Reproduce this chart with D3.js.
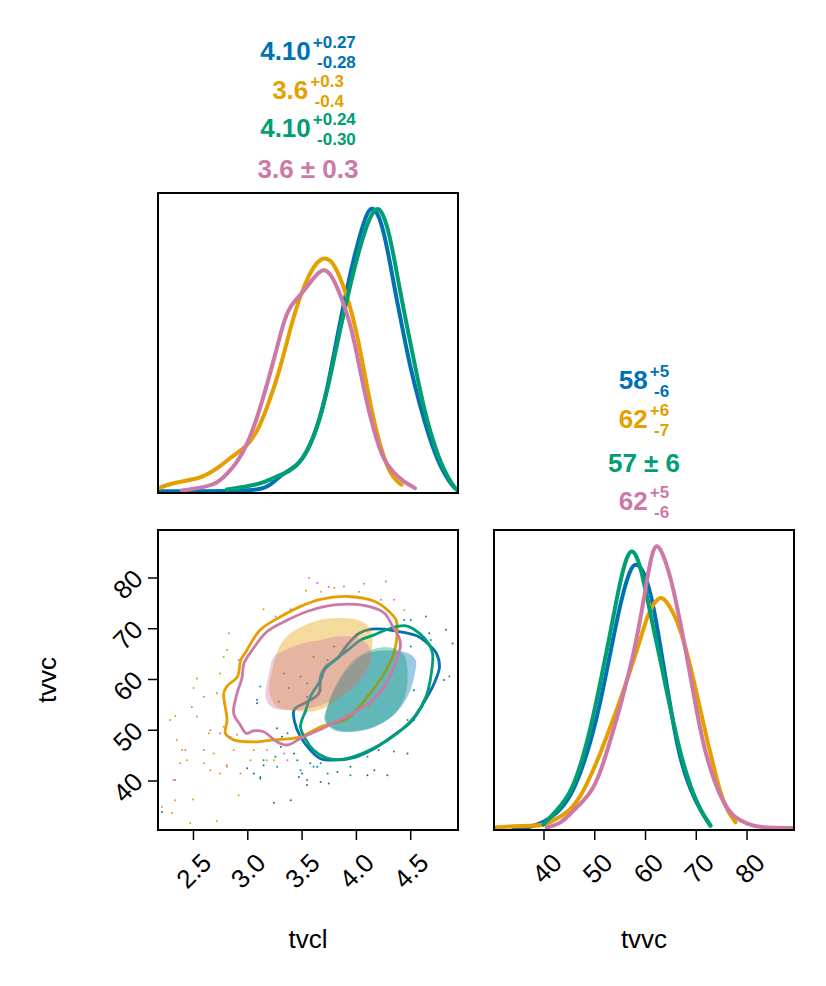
<!DOCTYPE html>
<html>
<head>
<meta charset="utf-8">
<script src="https://cdn.jsdelivr.net/npm/d3@7"></script>
<style>
  body { margin: 0; background: #fff; }
  text { font-family: "Liberation Sans", Arial, Helvetica, sans-serif; }
</style>
</head>
<body>
<div id="container"></div>
<script>
// Corner plot of two parameters (tvcl, tvvc) for four chains / models.
const seriesColors = ["#0072B2", "#E69F00", "#009E73", "#CC79A7"];

const tvclTicks = [2.5, 3.0, 3.5, 4.0, 4.5];
const tvvcTicks = [40, 50, 60, 70, 80];

// summary labels: median, upper, lower
const tvclSummary = [
  { med: "4.10", plus: "+0.27", minus: "-0.28" },
  { med: "3.6", plus: "+0.3", minus: "-0.4" },
  { med: "4.10", plus: "+0.24", minus: "-0.30" },
  { med: "3.6 ± 0.3" }
];
const tvvcSummary = [
  { med: "58", plus: "+5", minus: "-6" },
  { med: "62", plus: "+6", minus: "-7" },
  { med: "57 ± 6" },
  { med: "62", plus: "+5", minus: "-6" }
];

// marginal density of tvcl, [value, relative density]
const tvclDensity = [
  [[2.196,0.006],[2.6,0.006],[2.9,0.007],[3.117,0.012],[3.209,0.025],[3.332,0.07],[3.455,0.093],[3.547,0.14],[3.639,0.221],[3.731,0.35],[3.823,0.536],[3.915,0.711],[4.007,0.862],[4.099,0.979],[4.145,0.997],[4.191,0.985],[4.253,0.921],[4.314,0.804],[4.375,0.676],[4.437,0.559],[4.498,0.443],[4.59,0.303],[4.682,0.186],[4.774,0.093],[4.866,0.035],[4.912,0.017]],
  [[2.181,0.017],[2.319,0.035],[2.411,0.041],[2.564,0.052],[2.656,0.07],[2.749,0.093],[2.841,0.122],[2.933,0.146],[3.025,0.175],[3.117,0.233],[3.209,0.326],[3.301,0.431],[3.393,0.571],[3.485,0.688],[3.577,0.769],[3.639,0.804],[3.70,0.822],[3.761,0.816],[3.823,0.781],[3.884,0.723],[3.946,0.653],[4.007,0.559],[4.068,0.443],[4.13,0.315],[4.191,0.21],[4.253,0.128],[4.314,0.07],[4.375,0.041],[4.421,0.029]],
  [[2.81,0.012],[3.117,0.029],[3.27,0.058],[3.393,0.076],[3.485,0.105],[3.577,0.163],[3.669,0.256],[3.761,0.396],[3.854,0.571],[3.946,0.723],[4.038,0.862],[4.13,0.967],[4.191,0.997],[4.237,0.985],[4.299,0.921],[4.36,0.804],[4.421,0.676],[4.483,0.559],[4.544,0.443],[4.621,0.303],[4.713,0.175],[4.805,0.082],[4.897,0.023],[4.943,0.006]],
  [[2.396,0.009],[2.503,0.014],[2.626,0.023],[2.718,0.033],[2.81,0.064],[2.902,0.105],[2.994,0.163],[3.086,0.256],[3.178,0.373],[3.27,0.501],[3.332,0.594],[3.393,0.653],[3.485,0.688],[3.577,0.734],[3.639,0.763],[3.70,0.783],[3.761,0.769],[3.823,0.723],[3.884,0.664],[3.946,0.594],[4.007,0.49],[4.068,0.373],[4.13,0.268],[4.191,0.186],[4.253,0.117],[4.345,0.07],[4.437,0.041],[4.544,0.017]]
];

// marginal density of tvvc
const tvvcDensity = [
  [[34.08,0.004],[37.37,0.009],[40,0.027],[42.63,0.056],[45.26,0.114],[47.24,0.196],[49.21,0.301],[51.18,0.442],[53.16,0.617],[55.13,0.792],[56.78,0.897],[57.9,0.932],[59.08,0.921],[60.39,0.874],[61.71,0.78],[63.03,0.64],[64.34,0.5],[65.66,0.36],[66.97,0.243],[68.95,0.138],[70.92,0.068],[72.89,0.015]],
  [[30.26,0.009],[34.08,0.013],[37.37,0.015],[40,0.015],[42.63,0.039],[45.26,0.068],[47.24,0.114],[49.21,0.185],[51.18,0.266],[53.16,0.36],[55.13,0.453],[57.1,0.558],[59.08,0.664],[60.39,0.745],[61.71,0.792],[63.03,0.815],[64.01,0.804],[65.66,0.757],[66.97,0.699],[68.29,0.617],[69.6,0.523],[70.92,0.418],[72.24,0.313],[73.55,0.22],[74.87,0.126],[76.18,0.068],[77.83,0.027]],
  [[40,0.019],[42.63,0.068],[45.26,0.126],[47.24,0.22],[49.21,0.348],[51.18,0.512],[53.16,0.687],[55.13,0.874],[56.45,0.956],[57.24,0.977],[58.09,0.967],[59.08,0.921],[60.39,0.815],[61.71,0.699],[63.03,0.593],[64.34,0.477],[65.66,0.371],[66.97,0.266],[68.95,0.15],[70.92,0.068],[72.89,0.015]],
  [[40.66,0.009],[43.29,0.021],[45.26,0.056],[47.24,0.091],[49.21,0.126],[51.18,0.196],[53.16,0.313],[55.13,0.43],[56.45,0.523],[57.76,0.617],[59.08,0.734],[60.39,0.874],[61.38,0.967],[62.24,1.0],[63.36,0.973],[65.0,0.886],[66.32,0.78],[67.63,0.664],[68.95,0.535],[70.26,0.407],[71.58,0.29],[73.55,0.173],[75.53,0.091],[77.5,0.044],[80.13,0.021],[82.76,0.007],[89.34,0.007]]
];

// outer credible contour, [tvcl, tvvc]
const outerContours = [
  [[3.43,53.9],[3.435,51.6],[3.49,48.6],[3.58,46.0],[3.675,44.3],[3.8,44.0],[3.98,44.5],[4.17,46.3],[4.35,48.95],[4.51,51.6],[4.63,55.5],[4.72,59.1],[4.77,62.4],[4.74,65.1],[4.675,66.7],[4.57,68.4],[4.41,69.3],[4.26,69.8],[4.14,69.8],[4.03,69.0],[3.92,66.7],[3.83,64.1],[3.72,62.4],[3.675,60.5],[3.66,57.2],[3.55,55.5],[3.46,54.5]],
  [[2.783,57.17],[2.814,51.9],[2.798,49.3],[2.875,48.0],[3.06,47.6],[3.245,48.0],[3.49,48.6],[3.675,50.6],[3.92,52.2],[4.106,56.5],[4.26,61.1],[4.35,65.1],[4.38,69.0],[4.37,71.6],[4.29,73.6],[4.17,75.3],[3.92,76.25],[3.675,75.7],[3.49,74.3],[3.31,72.3],[3.12,69.7],[2.98,65.1],[2.94,63.75],[2.91,60.5],[2.81,58.5]],
  [[3.49,50.6],[3.54,48.0],[3.61,46.0],[3.72,44.5],[3.83,44.1],[3.98,44.7],[4.2,46.8],[4.38,49.3],[4.54,52.6],[4.645,56.5],[4.69,60.5],[4.705,65.1],[4.645,67.7],[4.54,69.7],[4.45,70.5],[4.32,70.0],[4.17,68.7],[4.045,67.7],[3.95,66.1],[3.83,64.1],[3.71,61.8],[3.675,59.8],[3.58,56.5],[3.54,53.9]],
  [[2.906,57.2],[2.875,53.2],[2.937,50.9],[2.99,49.3],[3.06,49.8],[3.15,49.6],[3.275,47.6],[3.37,47.0],[3.49,48.3],[3.675,50.1],[3.92,52.7],[4.137,55.5],[4.26,58.5],[4.35,62.4],[4.41,66.4],[4.4,68.0],[4.34,70.3],[4.26,73.0],[4.075,74.5],[3.8,74.6],[3.55,73.3],[3.37,71.6],[3.18,69.3],[3.045,65.7],[2.97,63.1],[2.95,60.1]]
];

// inner (filled) credible region
const innerContours = [
  [[3.74,54.5],[3.71,51.9],[3.8,49.9],[3.98,49.6],[4.17,50.5],[4.35,52.9],[4.475,56.5],[4.54,60.8],[4.55,63.75],[4.475,65.1],[4.29,65.6],[4.17,65.4],[4.045,64.4],[3.92,61.8],[3.83,59.1],[3.77,56.8]],
  [[3.23,61.8],[3.205,57.2],[3.275,54.5],[3.43,53.75],[3.61,53.6],[3.77,54.9],[3.95,58.2],[4.106,62.4],[4.15,66.4],[4.14,69.7],[4.045,71.4],[3.89,72.0],[3.71,71.8],[3.54,70.7],[3.38,68.7],[3.29,66.1]],
  [[3.72,53.2],[3.74,51.1],[3.86,49.8],[4.045,49.9],[4.23,51.25],[4.38,53.75],[4.46,57.2],[4.475,61.8],[4.445,64.7],[4.35,66.05],[4.23,66.2],[4.106,65.4],[3.98,63.75],[3.86,60.5],[3.78,56.8]],
  [[3.245,64.4],[3.2,61.1],[3.17,56.2],[3.23,54.4],[3.37,53.9],[3.55,54.1],[3.74,55.3],[3.95,57.8],[4.09,60.8],[4.14,63.75],[4.12,66.4],[4.03,68.0],[3.86,68.4],[3.675,67.7],[3.49,66.9],[3.34,65.6]]
];

// samples outside the contours
const scatterPoints = [
  [[4.89,67.0],[4.83,69.7],[4.675,69.0],[4.61,54.5],[4.535,51.9],[4.475,45.3],[4.21,46.0],[4.29,41.05],[4.106,41.05],[3.95,42.7],[3.675,39.7],[3.55,39.1],[3.40,36.1],[3.245,35.6],[3.475,40.7],[3.43,45.3],[3.32,48.6],[3.275,50.3],[3.15,43.0],[3.12,40.4],[3.06,41.4],[2.998,42.4],[4.17,42.0],[3.75,39.4],[3.645,42.7],[3.09,55.2],[2.214,33.8],[3.505,41.4],[3.83,41.7],[4.535,57.8],[4.81,59.8],[3.58,43.4],[3.34,61.1],[3.49,60.5],[3.55,59.1],[3.38,58.2],[3.61,64.4],[3.74,63.75]],
  [[2.214,34.8],[2.306,33.6],[2.475,31.6],[2.72,32.0],[2.32,40.1],[2.337,36.1],[2.5,36.25],[2.40,46.0],[2.29,51.9],[2.337,52.7],[2.506,58.2],[2.537,60.1],[2.645,49.3],[2.783,50.6],[2.75,61.1],[2.783,64.4],[2.814,65.7],[2.69,45.3],[2.75,41.4],[2.814,42.7],[2.92,37.1],[3.03,44.0],[3.18,44.0],[3.245,44.0],[3.15,73.75],[3.54,77.4],[3.675,77.2],[3.8,77.9],[4.03,77.2],[4.445,73.6],[2.66,42.0],[2.445,44.0],[2.937,41.4],[2.875,46.0],[2.6,43.4],[2.383,43.4],[3.06,46.0],[2.35,48.0],[4.26,58.5],[4.38,59.8],[4.12,54.5]],
  [[4.645,72.3],[4.505,71.6],[4.445,71.6],[4.505,66.4],[4.86,60.5],[4.69,67.7],[4.35,45.7],[4.106,44.7],[3.95,41.05],[3.74,41.4],[3.61,42.7],[3.55,40.1],[3.49,42.0],[3.37,49.3],[3.31,46.6],[3.26,44.7],[3.12,40.7],[3.15,44.0],[3.275,42.7],[3.46,44.0],[3.675,43.4],[3.89,44.0],[4.475,51.9],[4.6,54.5],[4.75,64.4],[3.12,58.5],[3.09,55.9],[3.8,66.4],[3.92,65.7],[3.55,56.5],[3.675,57.8],[3.29,55.5]],
  [[3.57,79.9],[3.645,78.9],[3.75,78.1],[3.89,78.2],[4.075,78.75],[4.275,79.2],[4.23,75.6],[4.35,75.6],[3.40,73.75],[3.26,72.3],[2.83,69.0],[2.92,63.75],[2.6,56.5],[2.49,54.5],[2.72,57.2],[2.75,49.3],[2.81,43.0],[3.18,46.0],[3.34,45.3],[3.37,44.0],[2.906,49.0],[2.43,46.0],[2.66,49.9],[2.6,46.0],[2.845,48.6],[2.537,52.6],[2.337,40.1]]
];

const W = 826, H = 986;
const size = 300;
const col0 = 158, col1 = 494;
const row0 = 193, row1 = 530;

const svg = d3.select("#container").append("svg")
  .attr("width", W)
  .attr("height", H);

const xCl = d3.scaleLinear().domain([2.178, 4.94]).range([col0, col0 + size]);
const xVc = d3.scaleLinear().domain([30.25, 89.35]).range([col1, col1 + size]);
const yVc = d3.scaleLinear().domain([30.25, 89.35]).range([row1 + size, row1]);
const yDensTop = d3.scaleLinear().domain([0, 1.047]).range([row0 + size, row0]);
const yDensBot = d3.scaleLinear().domain([0, 1.047]).range([row1 + size, row1]);

function clip(id, x, y) {
  svg.append("clipPath").attr("id", id)
    .append("rect").attr("x", x).attr("y", y).attr("width", size).attr("height", size);
}
clip("c-tl", col0, row0);
clip("c-bl", col0, row1);
clip("c-br", col1, row1);

// --- top-left: tvcl marginal
const gTL = svg.append("g").attr("clip-path", "url(#c-tl)");
const lineTL = d3.line().x(d => xCl(d[0])).y(d => yDensTop(d[1])).curve(d3.curveBasis);
tvclDensity.forEach((s, i) => {
  gTL.append("path").datum(s)
    .attr("d", lineTL)
    .attr("fill", "none")
    .attr("stroke", seriesColors[i])
    .attr("stroke-width", 4)
    .attr("stroke-linecap", "round");
});

// --- bottom-right: tvvc marginal
const gBR = svg.append("g").attr("clip-path", "url(#c-br)");
const lineBR = d3.line().x(d => xVc(d[0])).y(d => yDensBot(d[1])).curve(d3.curveBasis);
tvvcDensity.forEach((s, i) => {
  gBR.append("path").datum(s)
    .attr("d", lineBR)
    .attr("fill", "none")
    .attr("stroke", seriesColors[i])
    .attr("stroke-width", 4)
    .attr("stroke-linecap", "round");
});

// --- bottom-left: joint
const gBL = svg.append("g").attr("clip-path", "url(#c-bl)");
const closed = d3.line().x(d => xCl(d[0])).y(d => yVc(d[1])).curve(d3.curveCatmullRomClosed.alpha(0.5));
seriesColors.forEach((c, i) => {
  gBL.append("g").selectAll("circle")
    .data(scatterPoints[i])
    .enter().append("circle")
      .attr("cx", d => xCl(d[0]))
      .attr("cy", d => yVc(d[1]))
      .attr("r", 1)
      .attr("fill", c);
  gBL.append("path").datum(innerContours[i])
    .attr("d", closed)
    .attr("fill", c)
    .attr("fill-opacity", 0.38)
    .attr("stroke", "none");
  gBL.append("path").datum(outerContours[i])
    .attr("d", closed)
    .attr("fill", "none")
    .attr("stroke", c)
    .attr("stroke-width", 2.8);
});

// --- axes
function styleAxis(g) {
  g.select(".domain").remove();
  g.selectAll(".tick line").attr("stroke", "#000").attr("stroke-width", 1.5);
  g.selectAll(".tick text")
    .attr("fill", "#000")
    .style("font-size", "26px")
    .style("font-family", '"Liberation Sans", Arial, sans-serif');
}

const axBL = svg.append("g")
  .attr("transform", `translate(0,${row1 + size})`)
  .call(d3.axisBottom(xCl).tickValues(tvclTicks).tickSize(10).tickFormat(d3.format(".1f")));
styleAxis(axBL);
axBL.selectAll(".tick text")
  .attr("x", 0).attr("y", 0).attr("dy", "0.35em")
  .attr("text-anchor", "end")
  .attr("transform", "translate(13,28) rotate(-45)");

const axBR = svg.append("g")
  .attr("transform", `translate(0,${row1 + size})`)
  .call(d3.axisBottom(xVc).tickValues(tvvcTicks).tickSize(10).tickFormat(d3.format("d")));
styleAxis(axBR);
axBR.selectAll(".tick text")
  .attr("x", 0).attr("y", 0).attr("dy", "0.35em")
  .attr("text-anchor", "end")
  .attr("transform", "translate(13,28) rotate(-45)");

const axL = svg.append("g")
  .attr("transform", `translate(${col0},0)`)
  .call(d3.axisLeft(yVc).tickValues(tvvcTicks).tickSize(10).tickFormat(d3.format("d")));
styleAxis(axL);
axL.selectAll(".tick text")
  .attr("x", 0).attr("y", 0).attr("dy", "0.35em")
  .attr("text-anchor", "end")
  .attr("transform", "translate(-20,-4) rotate(-45)");

// frames
[[col0, row0], [col0, row1], [col1, row1]].forEach(p => {
  svg.append("rect")
    .attr("x", p[0]).attr("y", p[1])
    .attr("width", size).attr("height", size)
    .attr("fill", "none")
    .attr("stroke", "#000")
    .attr("stroke-width", 2);
});

// axis labels
svg.append("text").attr("x", col0 + size / 2).attr("y", 948)
  .attr("text-anchor", "middle").attr("font-size", 26).text("tvcl");
svg.append("text").attr("x", col1 + size / 2).attr("y", 948)
  .attr("text-anchor", "middle").attr("font-size", 26).text("tvvc");
svg.append("text")
  .attr("transform", `translate(56,${row1 + size / 2}) rotate(-90)`)
  .attr("text-anchor", "middle").attr("font-size", 26).text("tvvc");

// summary titles
function summary(cx, baselines, rows) {
  const g = svg.append("g");
  rows.forEach((r, i) => {
    const y = baselines[i];
    const t = g.append("text")
      .attr("y", y)
      .attr("fill", seriesColors[i])
      .attr("font-weight", "bold")
      .attr("font-size", 26)
      .text(r.med);
    const wm = t.node().getComputedTextLength();
    if (!r.plus) {
      t.attr("x", cx - wm / 2);
      return;
    }
    const sup = g.append("text").attr("y", y - 12)
      .attr("fill", seriesColors[i]).attr("font-weight", "bold").attr("font-size", 17)
      .attr("text-anchor", "end").text(r.plus);
    const sub = g.append("text").attr("y", y + 7.5)
      .attr("fill", seriesColors[i]).attr("font-weight", "bold").attr("font-size", 17)
      .attr("text-anchor", "end").text(r.minus);
    const ws = Math.max(sup.node().getComputedTextLength(), sub.node().getComputedTextLength());
    const x0 = cx - (wm + 2 + ws) / 2;
    t.attr("x", x0);
    sup.attr("x", x0 + wm + 2 + ws);
    sub.attr("x", x0 + wm + 2 + ws);
  });
}
summary(col0 + size / 2, [60, 99, 137, 178], tvclSummary);
summary(col1 + size / 2, [389, 428, 472, 510], tvvcSummary);
</script>
</body>
</html>
